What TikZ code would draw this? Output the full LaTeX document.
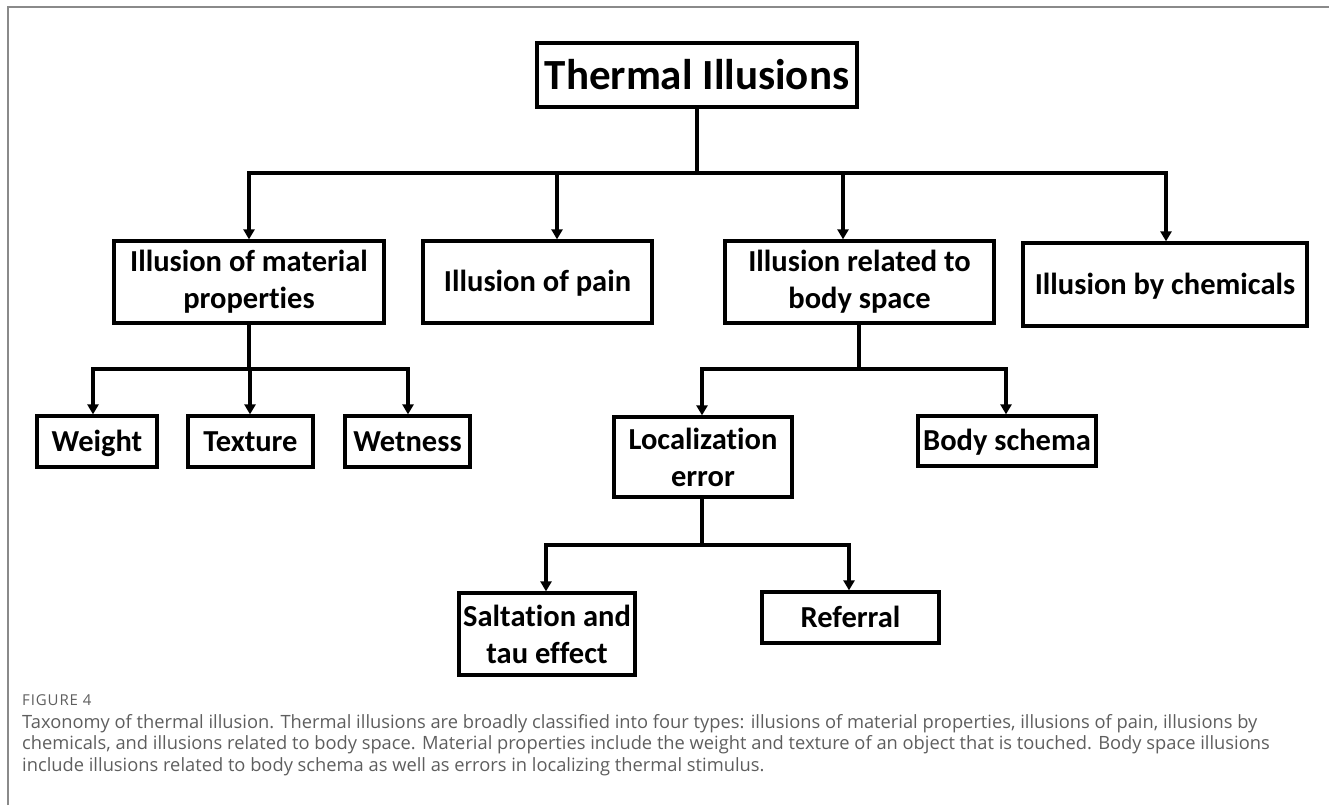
\documentclass[tikz,border=0pt]{standalone}
\usepackage{fontspec}
\setmainfont{Carlito}[Ligatures=NoCommon]
\newfontfamily\capfont{Open Sans}[Ligatures=NoCommon]
\newfontfamily\figfont{Open Sans}[LetterSpace=6]
\usetikzlibrary{arrows.meta}
\definecolor{capgray}{HTML}{5E5E5E}
\definecolor{framegray}{HTML}{8A8A8A}
\tikzset{
  box/.style={draw, line width=3.3pt, align=center, inner sep=0pt,
    font=\bfseries\fontsize{30.5}{37}\selectfont},
  one/.style={text height=27pt, text depth=7.4pt},
  conn/.style={line width=3.1pt},
  bus/.style={line width=3.1pt, line cap=rect},
  arr/.style={line width=3.1pt, -{Triangle[width=11pt,length=10pt]}},
  captext/.style={anchor=base west, inner sep=0pt, text=capgray,
    font=\capfont\fontsize{18.3}{21}\selectfont},
}
\begin{document}
\begin{tikzpicture}[x=1pt,y=-1pt]
\useasboundingbox (0,0) rectangle (1329,805);
\draw[framegray, line width=2pt] (7.5,805) -- (7.5,7.5) -- (1329,7.5);

% nodes
\node[box, text height=38pt, text depth=8pt, minimum width=320pt, minimum height=64pt, font=\bfseries\fontsize{43}{50}\selectfont] (top) at (697,75) {Thermal Illusions};
\node[box, minimum width=270pt, minimum height=82pt] (mat) at (249,282) {Illusion of material\\properties};
\node[box, one, minimum width=229pt, minimum height=82pt] (pain) at (537.5,282) {Illusion of pain};
\node[box, minimum width=269pt, minimum height=82pt] (body) at (859.5,282) {Illusion related to\\body space};
\node[box, one, minimum width=284pt, minimum height=83pt] (chem) at (1165,284.5) {Illusion by chemicals};
\node[box, one, minimum width=120pt, minimum height=51pt] (weight) at (97,441.5) {Weight};
\node[box, one, minimum width=125pt, minimum height=51pt] (texture) at (250.5,441.5) {Texture};
\node[box, one, minimum width=125pt, minimum height=51pt] (wet) at (407.5,441.5) {Wetness};
\node[box, minimum width=178pt, minimum height=80pt] (loc) at (703,457) {Localization\\error};
\node[box, one, minimum width=178pt, minimum height=50pt] (schema) at (1007,441) {Body schema};
\node[box, minimum width=176pt, minimum height=82pt] (salt) at (547,634) {Saltation and\\tau effect};
\node[box, one, minimum width=177pt, minimum height=51pt] (ref) at (850.5,617.5) {Referral};

% level 1
\coordinate (j0) at (697,173);
\coordinate (b1) at (249,173);
\coordinate (b2) at (557,173);
\coordinate (b3) at (843,173);
\coordinate (b4) at (1166,173);
\draw[conn] (top.south) -- (j0);
\draw[bus] (b1) -- (b4);
\draw[arr] (b1) -- (b1 |- mat.north);
\draw[arr] (b2) -- (b2 |- pain.north);
\draw[arr] (b3) -- (b3 |- body.north);
\draw[arr] (b4) -- (b4 |- chem.north);

% material
\coordinate (m0) at (249,369);
\coordinate (m1) at (93,369);
\coordinate (m2) at (250,369);
\coordinate (m3) at (408,369);
\draw[conn] (mat.south) -- (m0);
\draw[bus] (m1) -- (m3);
\draw[arr] (m1) -- (m1 |- weight.north);
\draw[arr] (m2) -- (m2 |- texture.north);
\draw[arr] (m3) -- (m3 |- wet.north);

% body space
\coordinate (s0) at (859,369);
\coordinate (s1) at (702,369);
\coordinate (s2) at (1006,369);
\draw[conn] (s0 |- body.south) -- (s0);
\draw[bus] (s1) -- (s2);
\draw[arr] (s1) -- (s1 |- loc.north);
\draw[arr] (s2) -- (s2 |- schema.north);

% localization
\coordinate (l0) at (702,545);
\coordinate (l1) at (546,545);
\coordinate (l2) at (849,545);
\draw[conn] (l0 |- loc.south) -- (l0);
\draw[bus] (l1) -- (l2);
\draw[arr] (l1) -- (l1 |- salt.north);
\draw[arr] (l2) -- (l2 |- ref.north);

% caption
\node[captext, font=\figfont\fontsize{15}{17}\selectfont] (fig) at (22,705) {FIGURE 4};
\node[captext] (c1) at (22,728) {Taxonomy of thermal illusion. Thermal illusions are broadly classified into four types: illusions of material properties, illusions of pain, illusions by};
\node[captext] (c2) at (22,749.5) {chemicals, and illusions related to body space. Material properties include the weight and texture of an object that is touched. Body space illusions};
\node[captext] (c3) at (22,771) {include illusions related to body schema as well as errors in localizing thermal stimulus.};
\end{tikzpicture}
\end{document}
